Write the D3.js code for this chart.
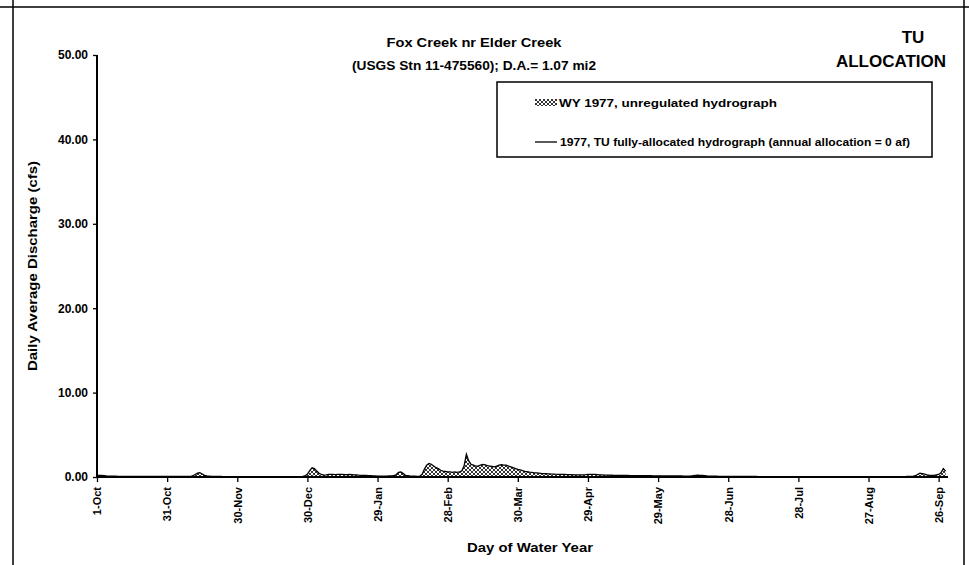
<!DOCTYPE html>
<html><head><meta charset="utf-8">
<script src="https://cdn.jsdelivr.net/npm/d3@7"></script>
<style>
body{margin:0;background:#fff}
svg{display:block}
text{font-family:"Liberation Sans",Arial,sans-serif;font-weight:bold;fill:#000}
</style>
</head><body>
<svg id="c" width="969" height="565"></svg>
<script>
// ---- data ----
const tickDays = [0,30,60,90,120,150,180,210,240,270,300,330,360];
const tickLabels = ["1-Oct","31-Oct","30-Nov","30-Dec","29-Jan","28-Feb","30-Mar","29-Apr","29-May","28-Jun","28-Jul","27-Aug","26-Sep"];
const yTicks = [0,10,20,30,40,50];
const titleLines = ["Fox Creek nr Elder Creek","(USGS Stn 11-475560); D.A.= 1.07 mi2"];
const cornerLines = ["TU","ALLOCATION"];
const legendLabels = ["WY 1977, unregulated hydrograph","1977, TU fully-allocated hydrograph (annual allocation = 0 af)"];
// daily average discharge (cfs), WY 1977, day 0 = 1-Oct
const unregulatedFlow = [
// Oct
0.20,0.20,0.18,0.15,0.12,0.10,0.10,0.09,0.09,0.08,0.08,0.08,0.08,0.07,0.07,0.07,0.07,0.07,0.07,0.06,0.06,0.06,0.06,0.06,0.06,0.06,0.06,0.06,0.06,0.06,0.06,
// Nov
0.06,0.06,0.06,0.06,0.06,0.06,0.06,0.06,0.06,0.06,0.15,0.30,0.45,0.50,0.35,0.20,0.12,0.10,0.08,0.07,0.06,0.06,0.06,0.05,0.05,0.05,0.05,0.05,0.05,0.05,
// Dec
0.05,0.05,0.05,0.05,0.05,0.05,0.05,0.05,0.05,0.05,0.05,0.05,0.05,0.05,0.05,0.05,0.05,0.05,0.05,0.05,0.05,0.05,0.05,0.05,0.05,0.05,0.05,0.06,0.12,0.35,0.75,
// Jan
1.10,1.00,0.70,0.45,0.30,0.22,0.25,0.30,0.30,0.30,0.28,0.30,0.32,0.30,0.28,0.27,0.30,0.28,0.25,0.25,0.22,0.20,0.20,0.18,0.15,0.15,0.12,0.12,0.10,0.10,0.10,
// Feb
0.10,0.10,0.12,0.12,0.15,0.30,0.55,0.60,0.40,0.20,0.15,0.10,0.10,0.10,0.08,0.10,0.30,0.90,1.40,1.60,1.50,1.30,1.10,1.00,0.80,0.70,0.65,0.60,
// Mar
0.60,0.55,0.60,0.55,0.60,0.70,1.30,2.70,1.90,1.50,1.40,1.30,1.30,1.40,1.50,1.45,1.35,1.30,1.25,1.20,1.30,1.40,1.45,1.40,1.40,1.30,1.20,1.10,1.00,0.90,0.85,
// Apr
0.75,0.68,0.62,0.58,0.55,0.50,0.48,0.45,0.42,0.40,0.40,0.38,0.36,0.35,0.33,0.32,0.30,0.30,0.30,0.28,0.28,0.27,0.26,0.25,0.25,0.24,0.25,0.27,0.30,0.30,
// May
0.32,0.30,0.28,0.25,0.24,0.23,0.22,0.22,0.21,0.20,0.20,0.19,0.19,0.18,0.18,0.18,0.17,0.17,0.17,0.16,0.16,0.16,0.15,0.15,0.15,0.15,0.14,0.14,0.14,0.14,0.13,
// Jun
0.13,0.13,0.13,0.12,0.12,0.12,0.12,0.12,0.11,0.11,0.11,0.12,0.15,0.20,0.22,0.20,0.18,0.15,0.12,0.10,0.10,0.09,0.09,0.08,0.08,0.08,0.07,0.07,0.07,0.07,
// Jul
0.06,0.06,0.06,0.06,0.06,0.06,0.06,0.06,0.06,0.06,0.05,0.05,0.05,0.05,0.05,0.05,0.05,0.05,0.05,0.05,0.05,0.05,0.05,0.05,0.05,0.05,0.05,0.05,0.05,0.05,0.05,
// Aug
0.04,0.04,0.04,0.04,0.04,0.04,0.04,0.04,0.04,0.04,0.04,0.04,0.04,0.04,0.04,0.04,0.04,0.04,0.04,0.04,0.04,0.04,0.04,0.04,0.04,0.04,0.04,0.04,0.04,0.04,0.04,
// Sep
0.04,0.04,0.04,0.04,0.04,0.04,0.04,0.04,0.04,0.04,0.05,0.06,0.08,0.06,0.08,0.15,0.30,0.45,0.40,0.35,0.25,0.20,0.18,0.20,0.25,0.30,0.50,1.00,0.70
];
// allocation = 0 af, so the fully-allocated hydrograph equals the unregulated one
const allocatedFlow = unregulatedFlow;

// ---- drawing ----
const svg = d3.select("#c");
const x = d3.scaleLinear().domain([0,364]).range([97,948]);
const y = d3.scaleLinear().domain([0,50]).range([477,55]);

const defs = svg.append("defs");
const pat = defs.append("pattern").attr("id","hatch").attr("patternUnits","userSpaceOnUse")
  .attr("width",4).attr("height",4);
pat.append("rect").attr("width",4).attr("height",4).attr("fill","#fff");
pat.append("path").attr("d","M0,0L4,4M4,0L0,4M-1,3L1,5M3,-1L5,1").attr("stroke","#000").attr("stroke-width",0.8);

// outer frame
svg.append("line").attr("x1",0).attr("x2",969).attr("y1",7).attr("y2",7).attr("stroke","#000").attr("stroke-width",1.5);
svg.append("line").attr("x1",13).attr("x2",13).attr("y1",0).attr("y2",565).attr("stroke","#000").attr("stroke-width",1.5);
svg.append("line").attr("x1",964).attr("x2",964).attr("y1",0).attr("y2",565).attr("stroke","#000").attr("stroke-width",1.5);

// titles
svg.append("g").selectAll("text").data(titleLines).join("text")
  .attr("x",474).attr("y",(d,i)=>47+i*23).attr("text-anchor","middle").style("font-size","13.5px")
  .attr("textLength",(d,i)=>i?244:175).attr("lengthAdjust","spacingAndGlyphs").text(d=>d);
svg.append("g").selectAll("text").data(cornerLines).join("text")
  .attr("x",(d,i)=>i?891:913).attr("y",(d,i)=>43+i*24).attr("text-anchor","middle").style("font-size","17px").text(d=>d);

// area + line
svg.append("path").datum(unregulatedFlow)
  .attr("d", d3.area().x((d,i)=>x(i)).y0(y(0)).y1(d=>y(d)))
  .attr("fill","url(#hatch)");
svg.append("path").datum(allocatedFlow)
  .attr("d", d3.line().x((d,i)=>x(i)).y(d=>y(d)))
  .attr("fill","none").attr("stroke","#000").attr("stroke-width",1.3);

// y axis
const ya = svg.append("g").attr("transform","translate(97,0)")
  .call(d3.axisLeft(y).tickValues(yTicks).tickFormat(d3.format(".2f")).tickSize(4).tickPadding(5));
ya.select(".domain").remove();
ya.selectAll("line").attr("stroke","#000").attr("stroke-width",1.3);
ya.selectAll("text").style("font-size","12px").attr("fill","#000");
svg.append("line").attr("x1",97).attr("x2",97).attr("y1",y(50)).attr("y2",y(0)+1).attr("stroke","#000").attr("stroke-width",2);

// x axis
const xa = svg.append("g").attr("transform",`translate(0,${y(0)})`)
  .call(d3.axisBottom(x).tickValues(tickDays).tickFormat((d,i)=>tickLabels[i]).tickSize(5).tickPadding(3));
xa.select(".domain").remove();
xa.selectAll("line").attr("stroke","#000").attr("stroke-width",1.3);
xa.selectAll("text").style("font-size","11px").attr("fill","#000")
  .attr("transform","rotate(-90)").attr("x",-10).attr("y",0).attr("dy","0.35em").attr("text-anchor","end");
svg.append("line").attr("x1",96).attr("x2",x(364)).attr("y1",y(0)).attr("y2",y(0)).attr("stroke","#000").attr("stroke-width",2);

// axis titles
svg.append("text").attr("x",530).attr("y",552).attr("text-anchor","middle").style("font-size","13px")
  .attr("textLength",126).attr("lengthAdjust","spacingAndGlyphs").text("Day of Water Year");
svg.append("text").attr("transform",`translate(37,266) rotate(-90)`).attr("text-anchor","middle").style("font-size","12.5px")
  .attr("textLength",210).attr("lengthAdjust","spacingAndGlyphs").text("Daily Average Discharge (cfs)");

// legend
const lg = svg.append("g");
lg.append("rect").attr("x",497).attr("y",82).attr("width",435).attr("height",75).attr("fill","#fff").attr("stroke","#000").attr("stroke-width",1.5);
lg.append("rect").attr("x",535).attr("y",99).attr("width",22).attr("height",7).attr("fill","url(#hatch)");
lg.append("line").attr("x1",535).attr("x2",557).attr("y1",142).attr("y2",142).attr("stroke","#000").attr("stroke-width",1.3);
lg.selectAll("text.l").data(legendLabels).join("text").attr("class","l")
  .attr("x",(d,i)=>i?560:559).attr("y",(d,i)=>i?145.5:106.5).style("font-size","10.5px")
  .attr("textLength",(d,i)=>i?350:218).attr("lengthAdjust","spacingAndGlyphs").text(d=>d);
</script>
</body></html>
